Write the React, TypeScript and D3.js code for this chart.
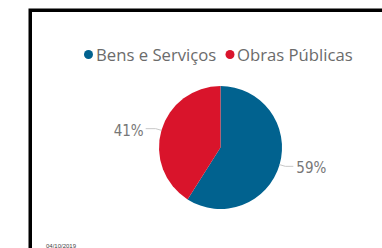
import * as d3 from 'd3';

// Pie — share of contracts by type, Power BI style card.
const CATEGORIES = ['Bens e Serviços', 'Obras Públicas'];
const SHARES = [59, 41];
const COLORS = ['#01628F', '#D9142B'];
const DATE_LABEL = '04/10/2019';

const W = 382;
const H = 248;

export default function App() {
  const cx = 220.5;
  const cy = 147.5;
  const r = 61.5;

  const pie = d3.pie<number>().sort(null).value((d) => d);
  const arcs = pie(SHARES);
  const arc = d3.arc<d3.PieArcDatum<number>>().innerRadius(0).outerRadius(r);
  const color = d3.scaleOrdinal<string, string>().domain(CATEGORIES).range(COLORS);

  // label positions: leader line heads out from mid-angle, then horizontal
  const labels = arcs.map((a, i) => {
    const mid = (a.startAngle + a.endAngle) / 2;
    const right = Math.sin(mid) > 0;
    const p0 = [cx + Math.sin(mid) * r, cy - Math.cos(mid) * r];
    const p1 = [cx + Math.sin(mid) * (r + 6), cy - Math.cos(mid) * (r + 6)];
    const p2 = [p1[0] + (right ? 8 : -10), p1[1]];
    return { i, right, p0, p1, p2, text: `${SHARES[i]}%` };
  });

  return (
    <svg width={W} height={H} style={{ position: 'fixed', left: 0, top: 0, background: '#fff' }}>
      <rect x={30.25} y={10.25} width={W} height={H} fill="#fff" stroke="#000" strokeWidth={3.5} />

      {/* legend */}
      <g fontFamily="'Open Sans', 'Noto Sans', sans-serif" fontSize={16.7} fill="#6b6b6b">
        <circle cx={88.5} cy={54.5} r={4.5} fill={color(CATEGORIES[0])} />
        <text x={96} y={60.5}>{CATEGORIES[0]}</text>
        <circle cx={230} cy={54.5} r={4.5} fill={color(CATEGORIES[1])} />
        <text x={237} y={60.5}>{CATEGORIES[1]}</text>
      </g>

      {arcs.map((a, i) => (
        <path key={i} d={arc(a) ?? ''} transform={`translate(${cx},${cy})`} fill={color(CATEGORIES[i])} />
      ))}

      {labels.map((l) => (
        <g key={l.i}>
          <polyline
            points={[l.p0, l.p1, l.p2].map((p) => p.join(',')).join(' ')}
            fill="none"
            stroke="#c8c8c8"
            strokeWidth={1}
          />
          <text
            x={l.p2[0] + (l.right ? 3 : -2)}
            y={l.p2[1] + 7}
            textAnchor={l.right ? 'start' : 'end'}
            fontFamily="'DejaVu Sans Condensed', 'Roboto Condensed', sans-serif"
            fontSize={15}
            fill="#777"
          >
            {l.text}
          </text>
        </g>
      ))}

      <text x={46} y={247.5} fontFamily="'Liberation Sans', Arial, sans-serif" fontSize={6} fill="#444">
        {DATE_LABEL}
      </text>
    </svg>
  );
}
